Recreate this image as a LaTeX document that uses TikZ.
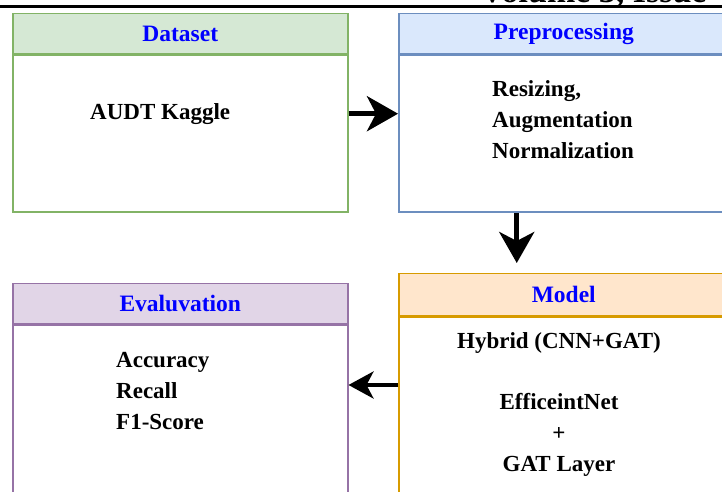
\documentclass[tikz,border=0pt]{standalone}
\usepackage{fontspec}
\setmainfont{Liberation Serif}
\usetikzlibrary{arrows.meta,positioning}

\definecolor{dsfill}{HTML}{D5E8D4}
\definecolor{dsline}{HTML}{82B366}
\definecolor{ppfill}{HTML}{DAE8FC}
\definecolor{ppline}{HTML}{6C8EBF}
\definecolor{mdfill}{HTML}{FFE6CC}
\definecolor{mdline}{HTML}{D79B00}
\definecolor{evfill}{HTML}{E1D5E7}
\definecolor{evline}{HTML}{9673A6}
\definecolor{titleblue}{HTML}{0000FF}

\begin{document}
\begin{tikzpicture}[x=1pt, y=1pt,
    head/.style={draw, line width=1.5pt, inner sep=0pt, minimum height=40pt,
        text=titleblue, font=\fontsize{23.5}{27}\selectfont\bfseries},
    body/.style={draw, line width=1.5pt, inner sep=0pt, fill=white},
    words/.style={inner sep=0pt, anchor=north west, align=left,
        font=\fontsize{23}{31}\selectfont\bfseries},
    flow/.style={-{Stealth[length=31pt, width=35pt, inset=9pt]}, line width=5pt},
    back/.style={-{Stealth[length=25pt, width=27pt, inset=7pt]}, line width=4pt}]

    % Setup the page
    \useasboundingbox (0,0) rectangle (722,492);
    \clip (0,0) rectangle (722,492);
    \draw[line width=3pt] (0,485.5) -- (722,485.5);
    \node[anchor=base west, inner sep=0pt, font=\fontsize{34}{40}\selectfont\bfseries]
        (issue) at (480,489) {Volume 3, Issue};

    % Dataset
    \node[head, fill=dsfill, draw=dsline, minimum width=335pt, anchor=north west]
        (dshead) at (12,479) {Dataset};
    \node[body, draw=dsline, minimum width=335pt, minimum height=157pt, below=0pt of dshead]
        (dsbody) {};
    \node[words] (dstext) at (90,389) {AUDT Kaggle};

    % Preprocessing
    \node[head, fill=ppfill, draw=ppline, minimum width=330pt, anchor=north west]
        (pphead) at (398,479) {Preprocessing};
    \node[body, draw=ppline, minimum width=330pt, minimum height=157pt, below=0pt of pphead]
        (ppbody) {};
    \node[words] (pptext) at (492,412) {Resizing,\\ Augmentation\\ Normalization};

    % Model
    \node[head, fill=mdfill, draw=mdline, minimum width=330pt, minimum height=42pt, anchor=north west]
        (mdhead) at (398,219) {Model};
    \node[body, draw=mdline, minimum width=330pt, minimum height=210pt, below=0pt of mdhead]
        (mdbody) {};
    \node[words, anchor=north, align=center] (mdtext) at (559,160)
        {Hybrid (CNN+GAT)\\[30pt] EfficeintNet\\ +\\ GAT Layer};

    % Evaluation
    \node[head, fill=evfill, draw=evline, minimum width=335pt, anchor=north west]
        (evhead) at (12,209) {Evaluvation};
    \node[body, draw=evline, minimum width=335pt, minimum height=210pt, below=0pt of evhead]
        (evbody) {};
    \node[words] (evtext) at (116,140) {Accuracy\\ Recall\\ F1-Score};

    % Arrows
    \coordinate (evarrow) at (0,107);
    \draw[flow] (dsbody.east |- dstext) -- (ppbody.west |- dstext);
    \draw[flow, shorten >=10pt] ([xshift=-47pt]ppbody.south) -- ([xshift=-47pt]mdhead.north);
    \draw[back] (mdbody.west |- evarrow) -- (evbody.east |- evarrow);

\end{tikzpicture}
\end{document}
